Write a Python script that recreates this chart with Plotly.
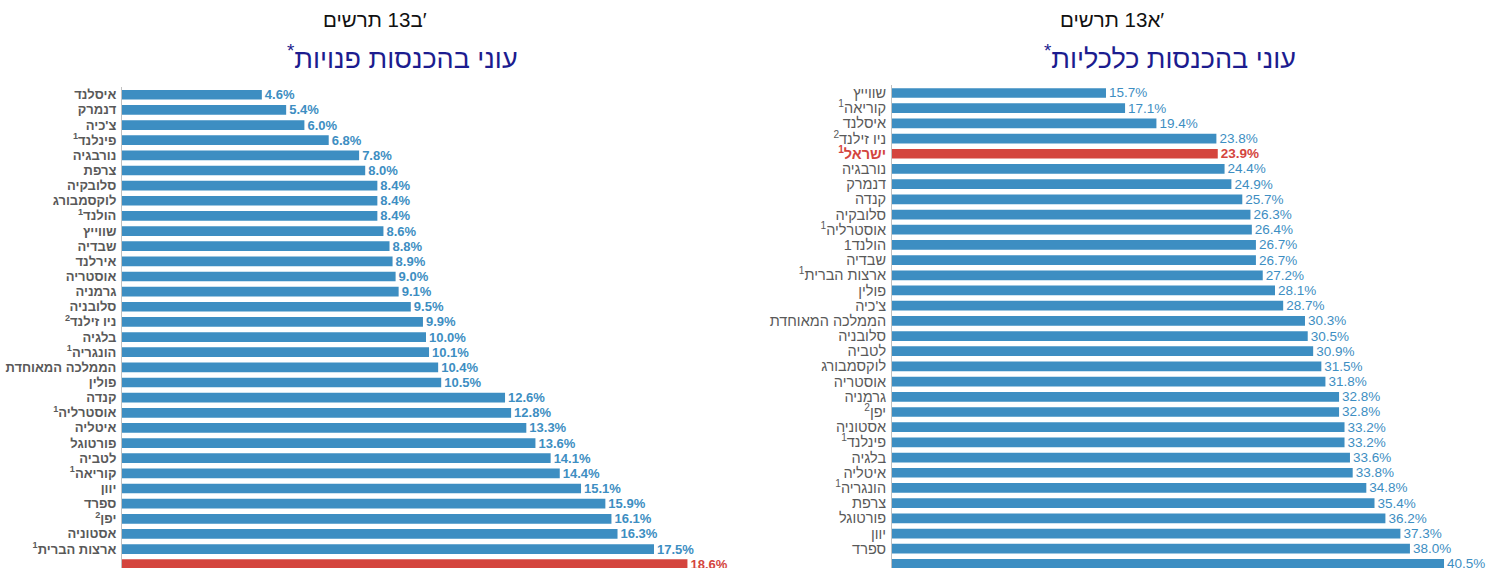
import plotly.graph_objects as go

# ---- data: left chart (disposable income poverty) ----
left_countries = ["איסלנד", "דנמרק", "צ'כיה", "<sup>1</sup>פינלנד", "נורבגיה", "צרפת", "סלובקיה",
                  "לוקסמבורג", "<sup>1</sup>הולנד", "שווייץ", "שבדיה", "אירלנד", "אוסטריה", "גרמניה",
                  "סלובניה", "<sup>2</sup>ניו זילנד", "בלגיה", "<sup>1</sup>הונגריה", "הממלכה המאוחדת",
                  "פולין", "קנדה", "<sup>1</sup>אוסטרליה", "איטליה", "פורטוגל", "לטביה", "<sup>1</sup>קוריאה",
                  "יוון", "ספרד", "<sup>2</sup>יפן", "אסטוניה", "<sup>1</sup>ארצות הברית", "<sup>1</sup>ישראל"]
left_values = [4.6, 5.4, 6.0, 6.8, 7.8, 8.0, 8.4, 8.4, 8.4, 8.6, 8.8, 8.9, 9.0, 9.1, 9.5, 9.9,
               10.0, 10.1, 10.4, 10.5, 12.6, 12.8, 13.3, 13.6, 14.1, 14.4, 15.1, 15.9, 16.1, 16.3,
               17.5, 18.6]
left_highlight = "<sup>1</sup>ישראל"

# ---- data: right chart (economic income poverty) ----
right_countries = ["שווייץ", "<sup>1</sup>קוריאה", "איסלנד", "<sup>2</sup>ניו זילנד", "<sup>1</sup>ישראל",
                   "נורבגיה", "דנמרק", "קנדה", "סלובקיה", "<sup>1</sup>אוסטרליה", "1הולנד", "שבדיה",
                   "<sup>1</sup>ארצות הברית", "פולין", "צ'כיה", "הממלכה המאוחדת", "סלובניה", "לטביה",
                   "לוקסמבורג", "אוסטריה", "גרמניה", "<sup>2</sup>יפן", "אסטוניה", "<sup>1</sup>פינלנד",
                   "בלגיה", "איטליה", "<sup>1</sup>הונגריה", "צרפת", "פורטוגל", "יוון", "ספרד", "אירלנד"]
right_values = [15.7, 17.1, 19.4, 23.8, 23.9, 24.4, 24.9, 25.7, 26.3, 26.4, 26.7, 26.7, 27.2, 28.1,
                28.7, 30.3, 30.5, 30.9, 31.5, 31.8, 32.8, 32.8, 33.2, 33.2, 33.6, 33.8, 34.8, 35.4,
                36.2, 37.3, 38.0, 40.5]
right_highlight = "<sup>1</sup>ישראל"

# subtitles: left-to-right override so the visual order is fixed: [word] [13] [letter] [prime]
left_subtitle = "\u202D" + "םישרת 13ב\u2032" + "\u202C"
left_title = "<sup>*</sup>עוני בהכנסות פנויות"
right_subtitle = "\u202D" + "םישרת 13א\u2032" + "\u202C"
right_title = "<sup>*</sup>עוני בהכנסות כלכליות"

BLUE = "#3d8ec2"
RED = "#d4453e"
GRAY = "#595959"
NAVY = "#1c1c8f"
FONT = "Liberation Sans, Arial, DejaVu Sans, sans-serif"

W, H = 1502, 568


def ticktexts(cats, hl, bold):
    out = []
    for c in cats:
        if c == hl:
            out.append(f"<span style='color:{RED}'><b>{c}</b></span>")
        else:
            out.append(f"<b>{c}</b>" if bold else c)
    return out


fig = go.Figure()

l_colors = [RED if c == left_highlight else BLUE for c in left_countries]
fig.add_trace(go.Bar(
    y=list(range(len(left_countries))), x=left_values, orientation="h",
    marker=dict(color=l_colors, line=dict(width=0)), width=0.64,
    text=[f"<b>{v:.1f}%</b>" for v in left_values], textposition="outside",
    textfont=dict(family=FONT, size=13, color=l_colors), constraintext="none",
    cliponaxis=False, xaxis="x", yaxis="y", showlegend=False, hoverinfo="skip"))

r_colors = [RED if c == right_highlight else BLUE for c in right_countries]
r_text = [f"<b>{v:.1f}%</b>" if c == right_highlight else f"{v:.1f}%"
          for c, v in zip(right_countries, right_values)]
fig.add_trace(go.Bar(
    y=list(range(len(right_countries))), x=right_values, orientation="h",
    marker=dict(color=r_colors, line=dict(width=0)), width=0.64,
    text=r_text, textposition="outside",
    textfont=dict(family=FONT, size=13.5, color=r_colors), constraintext="none",
    cliponaxis=False, xaxis="x2", yaxis="y2", showlegend=False, hoverinfo="skip"))

l_x0, l_ppu = 122, 30.4
r_x0, r_ppu = 892, 13.63
l_right, r_right = 760, 1500

fig.update_layout(
    width=W, height=H, margin=dict(l=0, r=0, t=0, b=0),
    paper_bgcolor="white", plot_bgcolor="white",
    font=dict(family=FONT),
    xaxis=dict(domain=[l_x0 / W, l_right / W], range=[0, (l_right - l_x0) / l_ppu],
               visible=False, fixedrange=True),
    yaxis=dict(domain=[0, 480.8 / H], range=[31.25, -0.5],
               tickvals=list(range(len(left_countries))),
               ticktext=ticktexts(left_countries, left_highlight, True),
               tickfont=dict(family=FONT, size=13, color=GRAY),
               showline=True, linecolor="#c0c0c0", linewidth=1, ticks="",
               showgrid=False, zeroline=False, ticklabelstandoff=2, fixedrange=True),
    xaxis2=dict(domain=[r_x0 / W, r_right / W], range=[0, (r_right - r_x0) / r_ppu],
                visible=False, fixedrange=True),
    yaxis2=dict(domain=[0, 482.6 / H], range=[31.27, -0.5], anchor="x2",
                tickvals=list(range(len(right_countries))),
                ticktext=ticktexts(right_countries, right_highlight, False),
                tickfont=dict(family=FONT, size=14.5, color=GRAY),
                showline=True, linecolor="#c0c0c0", linewidth=1, ticks="",
                showgrid=False, zeroline=False, ticklabelstandoff=2, fixedrange=True),
    annotations=[
        dict(text=left_subtitle, x=375 / W, y=1 - 20 / H, xref="paper", yref="paper",
             showarrow=False, xanchor="center", yanchor="middle",
             font=dict(family=FONT, size=20.5, color="#111111")),
        dict(text=left_title, x=402 / W, y=1 - 57 / H, xref="paper", yref="paper",
             showarrow=False, xanchor="center", yanchor="middle",
             font=dict(family=FONT, size=27, color=NAVY)),
        dict(text=right_subtitle, x=1112 / W, y=1 - 20 / H, xref="paper", yref="paper",
             showarrow=False, xanchor="center", yanchor="middle",
             font=dict(family=FONT, size=20.5, color="#111111")),
        dict(text=right_title, x=1170 / W, y=1 - 57 / H, xref="paper", yref="paper",
             showarrow=False, xanchor="center", yanchor="middle",
             font=dict(family=FONT, size=27, color=NAVY)),
    ],
)

fig.write_html("out.html", config={"displayModeBar": False},
               post_script="document.body.style.margin='0';document.body.style.overflow='hidden';")
